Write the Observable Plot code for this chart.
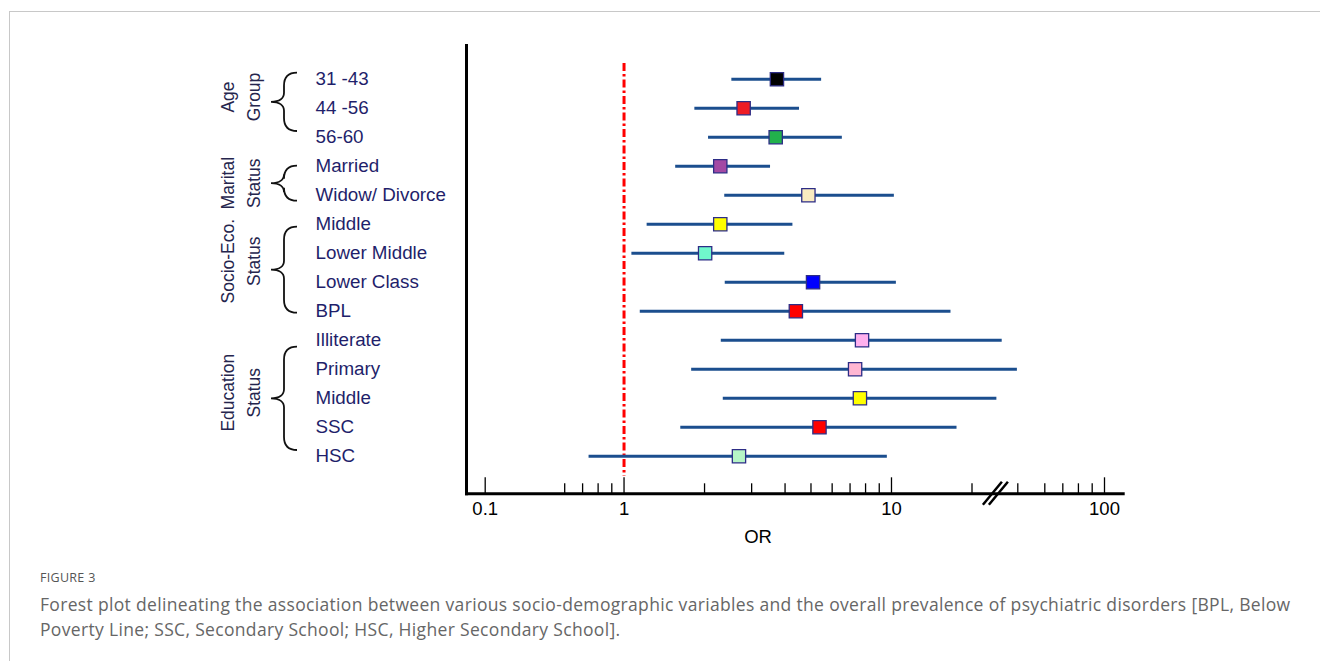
<!DOCTYPE html>
<html><head><meta charset="utf-8">
<script src="https://cdn.jsdelivr.net/npm/d3@7"></script>
<script src="https://cdn.jsdelivr.net/npm/@observablehq/plot@0.6"></script>
<style>
html,body{margin:0;padding:0;background:#fff;width:1320px;height:661px;overflow:hidden;position:relative}
#frame{position:absolute;left:9px;top:11px;width:1400px;height:700px;border-left:1px solid #c8c8c8;border-top:1px solid #c8c8c8}
#chart{position:absolute;left:0;top:0}
#fig{position:absolute;left:40px;top:569px;font-family:"Open Sans";font-size:12.5px;color:#555;letter-spacing:0.3px}
#cap{position:absolute;left:40px;top:592px;font-family:"Open Sans";font-size:17.5px;line-height:25px;color:#666;white-space:nowrap;letter-spacing:0.33px}
</style></head><body>
<div id="frame"></div>
<div id="chart"></div>
<div id="fig">FIGURE 3</div>
<div id="cap">Forest plot delineating the association between various socio-demographic variables and the overall prevalence of psychiatric disorders [BPL, Below<br>Poverty Line; SSC, Secondary School; HSC, Higher Secondary School].</div>
<script>
const rowLabels = ["31 -43","44 -56","56-60","Married","Widow/ Divorce","Middle","Lower Middle","Lower Class","BPL","Illiterate","Primary","Middle","SSC","HSC"];
const rowGroup = [0,0,0,1,1,2,2,2,2,3,3,3,3,3];
const oddsRatio = [3.73,2.80,3.69,2.29,4.89,2.29,2.01,5.09,4.39,7.76,7.31,7.62,5.38,2.69];
const ciLower = [2.53,1.84,2.07,1.56,2.38,1.22,1.07,2.39,1.15,2.31,1.79,2.35,1.63,0.74];
const ciUpper = [5.48,4.53,6.55,3.53,10.25,4.28,3.99,10.43,16.69,36.6,49.6,32.9,17.58,9.65];
const markerFill = ["#000000","#ee1c25","#22b14c","#a349a4","#f9ebc0","#ffff00","#70f8cc","#0000ff","#ff0000","#ffb0ee","#ffb6d2","#ffff00","#ff0000","#b6f5c6"];
const groupNames = [["Age","Group"],["Marital","Status"],["Socio-Eco.","Status"],["Education","Status"]];
const majorTicks = [0.1,1,10,100];
const minorTicks = [0.6,0.7,0.8,0.9,2,3,4,5,6,7,8,9,20,50,60,70,80,90];
const refOR = [1];

// layout (pixel) options
const W = 1320, H = 560;
const mTop = 45, axisY = 493.3, mLeft = 466, axisRight = 1122.7;
const groupDy = [-10.7, 3, -6, -5];
const braceSpan = [[-6,-5.7],[0,6],[3,2],[7,-5.7]];

const rows = rowLabels.map((label,i)=>({i,label,or:oddsRatio[i],lo:ciLower[i],hi:ciUpper[i],fill:markerFill[i],g:rowGroup[i]}));
const groups = groupNames.map((name,g)=>{
  const idx = rows.filter(r=>r.g===g).map(r=>r.i);
  return {name, g, first: d3.min(idx), last: d3.max(idx), mid: d3.mean(idx)};
});

const frameH = axisY - mTop;
const svg = Plot.plot({
  width: W, height: H,
  marginTop: mTop, marginBottom: H - axisY, marginLeft: mLeft, marginRight: W - axisRight,
  style: {fontFamily: "'Liberation Sans', Arial, sans-serif", background: "transparent", overflow: "visible"},
  x: {type: "log", domain: [0.1, 0.6, 20, 50, 60, 100], range: [484.7, 564.2, 971.5, 1017.3, 1044.3, 1104], axis: null},
  y: {type: "linear", domain: [0, 13], range: [78.7, 455.7], axis: null},
  color: {type: "identity"},
  marks: [
    Plot.ruleX(majorTicks, {stroke: "#000", strokeWidth: 1.3, insetTop: frameH - 16}),
    Plot.ruleX(minorTicks, {stroke: "#000", strokeWidth: 1.3, insetTop: frameH - 10}),
    Plot.frame({anchor: "left", stroke: "#000", strokeWidth: 3, strokeLinecap: "square"}),
    Plot.frame({anchor: "bottom", stroke: "#000", strokeWidth: 3, strokeLinecap: "square"}),
    Plot.ruleX(refOR, {stroke: "#ff0000", strokeWidth: 3, strokeDasharray: "8,3,2.5,3", insetTop: 18, insetBottom: 17.3}),
    Plot.ruleY(rows, {y: "i", x1: "lo", x2: "hi", stroke: "#1b4e8e", strokeWidth: 3}),
    Plot.dot(rows, {x: "or", y: "i", symbol: "square", r: 7.5, fill: "fill", stroke: "#2d2d86", strokeWidth: 1.3}),
    Plot.text(rows, {y: "i", text: "label", frameAnchor: "left", dx: 315 - mLeft, textAnchor: "start", fill: "#1f1f6b", fontSize: 18.8}),
    Plot.text(majorTicks, {x: d=>d, text: d=>String(d), frameAnchor: "bottom", dy: 21, fontSize: 18.5, fill: "#000"}),
    Plot.text(["OR"], {text: d=>d, frameAnchor: "bottom-left", textAnchor: "middle", dx: 291.5, dy: 49, fontSize: 18.5, fill: "#000"})
  ]
});
document.getElementById("chart").appendChild(svg);

const ys = svg.scale("y"), xs = svg.scale("x");
const sel = d3.select(svg);
// decorations: braces, group labels and axis break
groups.forEach((gr,k)=>{
  const top = ys.apply(gr.first) + braceSpan[k][0];
  const bot = ys.apply(gr.last) + braceSpan[k][1];
  const mid = (top + bot) / 2;
  const x1 = 297, xm = 284, x0 = 271;
  const d = `M${x1},${top} C${x1-9},${top} ${xm},${top+5} ${xm},${top+13} L${xm},${mid-9} C${xm},${mid-4} ${xm-4},${mid} ${x0},${mid} C${xm-4},${mid} ${xm},${mid+4} ${xm},${mid+9} L${xm},${bot-13} C${xm},${bot-5} ${x1-9},${bot} ${x1},${bot}`;
  sel.append("path").attr("d", d).attr("fill", "none").attr("stroke", "#111").attr("stroke-width", 1.8);
  const cy = ys.apply(gr.mid) + groupDy[k];
  gr.name.forEach((line, j)=>{
    sel.append("text")
      .attr("transform", `translate(${228 + 26*j},${cy}) rotate(-90)`)
      .attr("text-anchor", "middle").attr("dy", "0.35em")
      .attr("font-family", "'Liberation Sans', Arial, sans-serif").attr("font-size", 17.5)
      .attr("fill", "#25254d").text(line);
  });
});
const cx = (xs.apply(20) + xs.apply(50)) / 2 + 1;
[-3, 3].forEach(o=>{
  sel.append("line").attr("x1", cx + o - 9.5).attr("y1", axisY + 11.5).attr("x2", cx + o + 9.5).attr("y2", axisY - 11.5)
    .attr("stroke", "#000").attr("stroke-width", 2.5);
});
</script>
</body></html>
